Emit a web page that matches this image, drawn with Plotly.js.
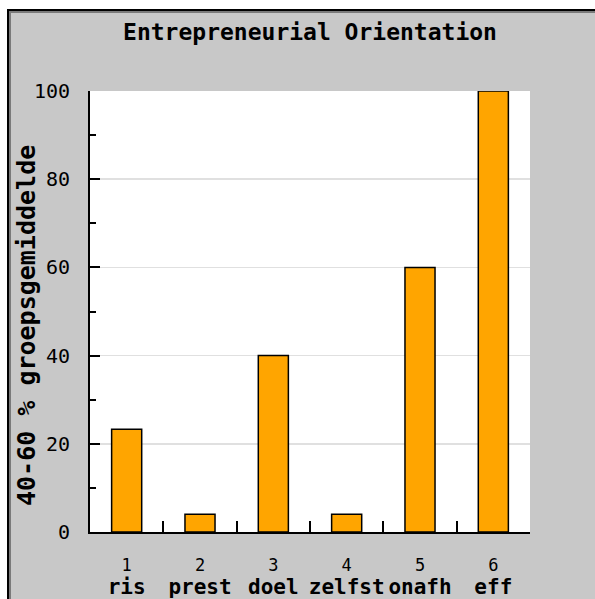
<!DOCTYPE html>
<html>
<head>
<meta charset="utf-8">
<script src="https://cdn.plot.ly/plotly-3.0.1.min.js"></script>
<style>
  html, body { margin: 0; padding: 0; background: #ffffff; width: 595px; height: 599px; overflow: hidden; }
  #frame { position: absolute; left: 7px; top: 9px; width: 590px; height: 592px; background: #c8c8c8;
           border-left: 2px solid #000; border-top: 2px solid #000; box-shadow: inset 2px 2px 0 #7a7a7a; }
  #chart { position: absolute; left: 0; top: 0; width: 595px; height: 599px; }
</style>
</head>
<body>
<div id="frame"></div>
<div id="chart"></div>
<script>
const chartTitle = "Entrepreneurial Orientation";
const yAxisTitle = "40-60 % groepsgemiddelde";
const categoryNumbers = ["1", "2", "3", "4", "5", "6"];
const categoryNames = ["ris", "prest", "doel", "zelfst", "onafh", "eff"];
const values = [23.3, 4, 40, 4, 60, 100];
const yTickValues = [0, 20, 40, 60, 80, 100];

const mono = "DejaVu Sans Mono, Liberation Mono, monospace";
const tickText = categoryNumbers.map((n, i) =>
  n + "<br><span style=\"font-size:21px;font-weight:bold\">" + categoryNames[i] + "</span>");

const trace = {
  type: "bar",
  x: categoryNumbers,
  y: values,
  width: 0.41,
  marker: { color: "#ffa500", line: { color: "#000000", width: 1.5 } },
  hoverinfo: "none"
};

const layout = {
  width: 595,
  height: 599,
  margin: { l: 90, r: 65, t: 91, b: 67 },
  paper_bgcolor: "rgba(0,0,0,0)",
  plot_bgcolor: "#ffffff",
  showlegend: false,
  font: { family: mono, color: "#000000" },
  title: {
    text: "<b>" + chartTitle + "</b>",
    font: { family: mono, size: 23, color: "#000000" },
    x: 0.5, xref: "paper", xanchor: "center",
    y: 1 - 32 / 599, yref: "container", yanchor: "middle"
  },
  annotations: [{
    text: "<b>" + yAxisTitle + "</b>",
    font: { family: mono, size: 25, color: "#000000" },
    textangle: -90,
    xref: "paper", yref: "paper",
    x: (26 - 90) / 440, y: (532 - 326) / 441,
    xanchor: "center", yanchor: "middle",
    showarrow: false
  }],
  xaxis: {
    type: "category",
    tickmode: "array",
    tickvals: categoryNumbers,
    ticktext: tickText,
    tickson: "boundaries",
    tickangle: 0,
    ticks: "inside",
    ticklen: 11,
    tickwidth: 2,
    tickcolor: "#000000",
    showline: true,
    linecolor: "#000000",
    linewidth: 2,
    showgrid: false,
    zeroline: false,
    tickfont: { family: mono, size: 17, color: "#000000" },
    ticklabelstandoff: 17,
    fixedrange: true
  },
  yaxis: {
    range: [0, 100],
    tickmode: "array",
    tickvals: yTickValues,
    ticks: "inside",
    ticklen: 10,
    tickwidth: 2,
    tickcolor: "#000000",
    minor: { dtick: 10, ticks: "inside", ticklen: 6, tickwidth: 2, tickcolor: "#000000", showgrid: false },
    showline: true,
    linecolor: "#000000",
    linewidth: 2,
    showgrid: true,
    gridcolor: "#e0e0e0",
    gridwidth: 1.5,
    zeroline: false,
    tickfont: { family: mono, size: 20, color: "#000000" },
    ticklabelstandoff: 14,
    fixedrange: true
  }
};

Plotly.newPlot("chart", [trace], layout, { displayModeBar: false, staticPlot: true });
</script>
</body>
</html>
